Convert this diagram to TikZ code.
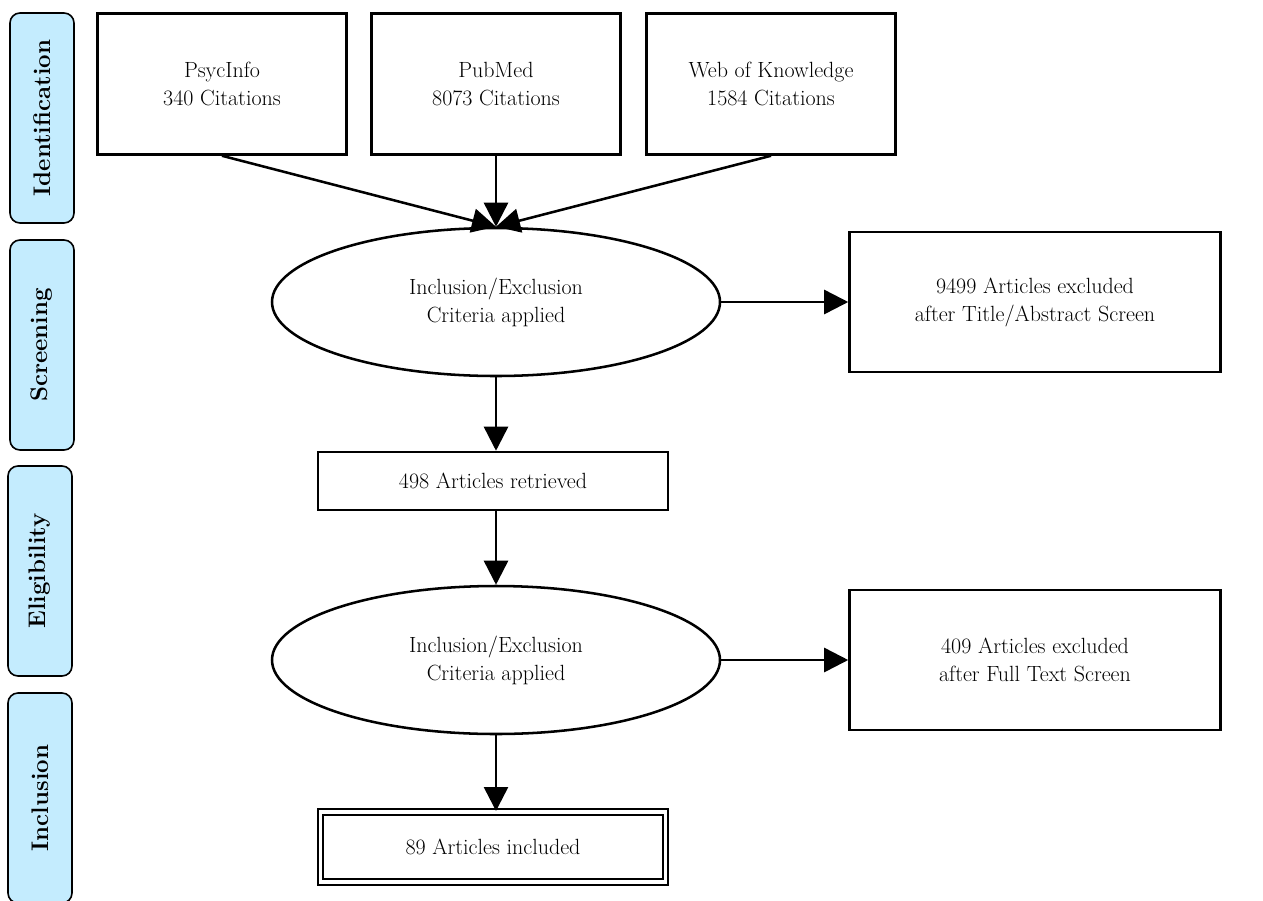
\documentclass[tikz,border=0pt]{standalone}
\usetikzlibrary{arrows.meta,shapes.geometric}
\definecolor{sideblue}{RGB}{196,236,254}
\begin{document}
\begin{tikzpicture}[x=0.75pt,y=-0.75pt,
  every node/.style={font=\fontsize{16.5}{21}\selectfont, align=center},
  side/.style={draw, fill=sideblue, rounded corners=7.5pt, line width=1.2pt,
    minimum width={64*0.75pt}, minimum height={210*0.75pt}, inner sep=0pt,
    font=\fontsize{18}{20}\selectfont\bfseries},
  srcbox/.style={draw, line width=1.9pt, minimum width={249*0.75pt}, minimum height={141*0.75pt}},
  exbox/.style={draw, line width=1.9pt, minimum width={371*0.75pt}, minimum height={140*0.75pt}},
  midbox/.style={draw, line width=1.9pt, minimum width={350*0.75pt}, minimum height={58*0.75pt}},
  crit/.style={draw, ellipse, line width=1.9pt, minimum width={448*0.75pt}, minimum height={148*0.75pt}, inner sep=0pt},
  finalbox/.style={draw, double, double distance=2.6pt, line width=1.5pt, minimum width={345*0.75pt}, minimum height={70*0.75pt}},
  arr/.style={line width=1.9pt, -{Triangle[length=18pt,width=18pt]}}
]
\useasboundingbox (0,0) rectangle (1263,900);
% side phase labels
\node[side] (ident) at (42,118) {\rotatebox{90}{Identification}};
\node[side] (screen) at (42,345) {\rotatebox{90}{Screening}};
\node[side] (elig) at (40,571) {\rotatebox{90}{Eligibility}};
\node[side] (incl) at (40,798) {\rotatebox{90}{Inclusion}};
% sources
\node[srcbox] (psyc) at (222,84) {PsycInfo\\340 Citations};
\node[srcbox] (pubmed) at (496,84) {PubMed\\8073 Citations};
\node[srcbox] (web) at (771,84) {Web of Knowledge\\1584 Citations};
% flow
\node[crit] (crit1) at (496,302) {Inclusion/Exclusion\\Criteria applied};
\node[exbox] (ex1) at (1035,302) {9499 Articles excluded\\after Title/Abstract Screen};
\node[midbox] (ret) at (493,481) {498 Articles retrieved};
\node[crit] (crit2) at (496,660) {Inclusion/Exclusion\\Criteria applied};
\node[exbox] (ex2) at (1035,660) {409 Articles excluded\\after Full Text Screen};
\node[finalbox] (final) at (493,847) {89 Articles included};
% connectors
\draw[arr] (psyc.south) -- (crit1.north);
\draw[arr] (pubmed.south) -- (crit1.north);
\draw[arr] (web.south) -- (crit1.north);
\draw[arr] (crit1.east) -- (ex1.west);
\draw[arr] (crit1.south) -- (crit1.south |- ret.north);
\draw[arr] (crit1.south |- ret.south) -- (crit2.north);
\draw[arr] (crit2.east) -- (ex2.west);
\draw[arr] (crit2.south) -- (crit2.south |- final.north);
\end{tikzpicture}
\end{document}
